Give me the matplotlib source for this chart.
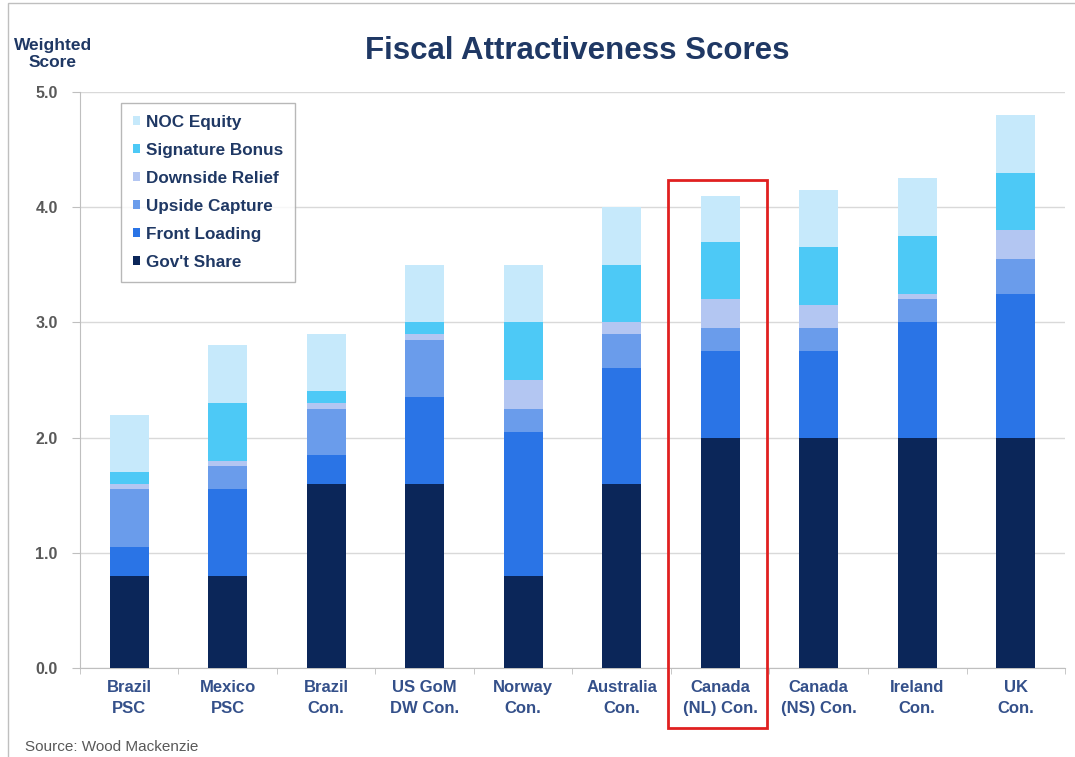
import numpy as np
import matplotlib.pyplot as plt
from matplotlib.patches import Rectangle

plt.rcParams['font.family'] = ['Liberation Sans', 'DejaVu Sans']

# regimes and score components (weighted score)
regimes = ['Brazil\nPSC', 'Mexico\nPSC', 'Brazil\nCon.', 'US GoM\nDW Con.', 'Norway\nCon.',
           'Australia\nCon.', 'Canada\n(NL) Con.', 'Canada\n(NS) Con.', 'Ireland\nCon.', 'UK\nCon.']
govt_share     = [0.80, 0.80, 1.60, 1.60, 0.80, 1.60, 2.00, 2.00, 2.00, 2.00]
front_loading  = [0.25, 0.75, 0.25, 0.75, 1.25, 1.00, 0.75, 0.75, 1.00, 1.25]
upside_capture = [0.50, 0.20, 0.40, 0.50, 0.20, 0.30, 0.20, 0.20, 0.20, 0.30]
downside_rel   = [0.05, 0.05, 0.05, 0.05, 0.25, 0.10, 0.25, 0.20, 0.05, 0.25]
signature_bon  = [0.10, 0.50, 0.10, 0.10, 0.50, 0.50, 0.50, 0.50, 0.50, 0.50]
noc_equity     = [0.50, 0.50, 0.50, 0.50, 0.50, 0.50, 0.40, 0.50, 0.50, 0.50]

series = [("Gov't Share", govt_share, '#0B2659'),
          ('Front Loading', front_loading, '#2A74E6'),
          ('Upside Capture', upside_capture, '#6A9CEB'),
          ('Downside Relief', downside_rel, '#B3C6F2'),
          ('Signature Bonus', signature_bon, '#4DC9F6'),
          ('NOC Equity', noc_equity, '#C6E9FB')]

navy = '#1F3864'
fig = plt.figure(figsize=(10.75, 7.57), dpi=100)
ax = fig.add_axes([0.0744, 0.1176, 0.9163, 0.7609])

x = np.arange(len(regimes))
bottom = np.zeros(len(regimes))
handles = []
for name, vals, col in series:
    b = ax.bar(x, vals, width=0.4, bottom=bottom, color=col, label=name, zorder=3)
    handles.append(b)
    bottom += np.array(vals)

ax.set_xlim(-0.5, len(regimes) - 0.5)
ax.set_ylim(0, 5)
ax.set_yticks(np.arange(0, 5.01, 1.0))
ax.set_yticklabels(['%.1f' % v for v in np.arange(0, 5.01, 1.0)],
                   fontsize=11.5, fontweight='bold', color='#595959')
ax.yaxis.grid(True, color='#D9D9D9', linewidth=1, zorder=0)
ax.tick_params(axis='y', length=6, color='#BFBFBF', pad=10)

ax.set_xticks(x)
ax.set_xticklabels(regimes, fontsize=12, fontweight='bold', color='#34508A', linespacing=1.45)
ax.set_xticks(np.arange(-0.5, len(regimes), 1.0), minor=True)
ax.tick_params(axis='x', which='major', length=0, pad=9)
ax.tick_params(axis='x', which='minor', length=4, color='#BFBFBF')

for s in ['top', 'right']:
    ax.spines[s].set_visible(False)
ax.spines['left'].set_color('#BFBFBF')
ax.spines['bottom'].set_color('#BFBFBF')

# highlight box around Canada (NL)
ax.add_patch(Rectangle((5.47, -0.52), 1.0, 4.76, fill=False, edgecolor='#E02020',
                       linewidth=2, clip_on=False, zorder=5))

leg = ax.legend(handles[::-1], [s[0] for s in series][::-1], loc='upper left',
                bbox_to_anchor=(0.0416, 0.981), frameon=True, fancybox=False,
                handlelength=0.4, handleheight=0.4, handletextpad=0.35,
                labelspacing=0.76, borderpad=0.7, borderaxespad=0,
                prop={'size': 12.3, 'weight': 'bold'})
leg.get_frame().set_edgecolor('#A6A6A6')
leg.get_frame().set_linewidth(1)
for t in leg.get_texts():
    t.set_color(navy)

fig.text(0.537, 0.932, 'Fiscal Attractiveness Scores', ha='center', va='center',
         fontsize=22.5, fontweight='bold', color=navy)
fig.text(0.049, 0.929, 'Weighted\nScore', ha='center', va='center',
         fontsize=12.5, fontweight='bold', color=navy, linespacing=1.15)
fig.text(0.023, 0.004, 'Source: Wood Mackenzie', ha='left', va='bottom',
         fontsize=11, color='#595959')

# slide border
fig.add_artist(Rectangle((0.007, -0.01), 1.0, 1.006, fill=False, edgecolor='#BFBFBF',
                         linewidth=1, transform=fig.transFigure))

fig.savefig('out.png', dpi=100)
